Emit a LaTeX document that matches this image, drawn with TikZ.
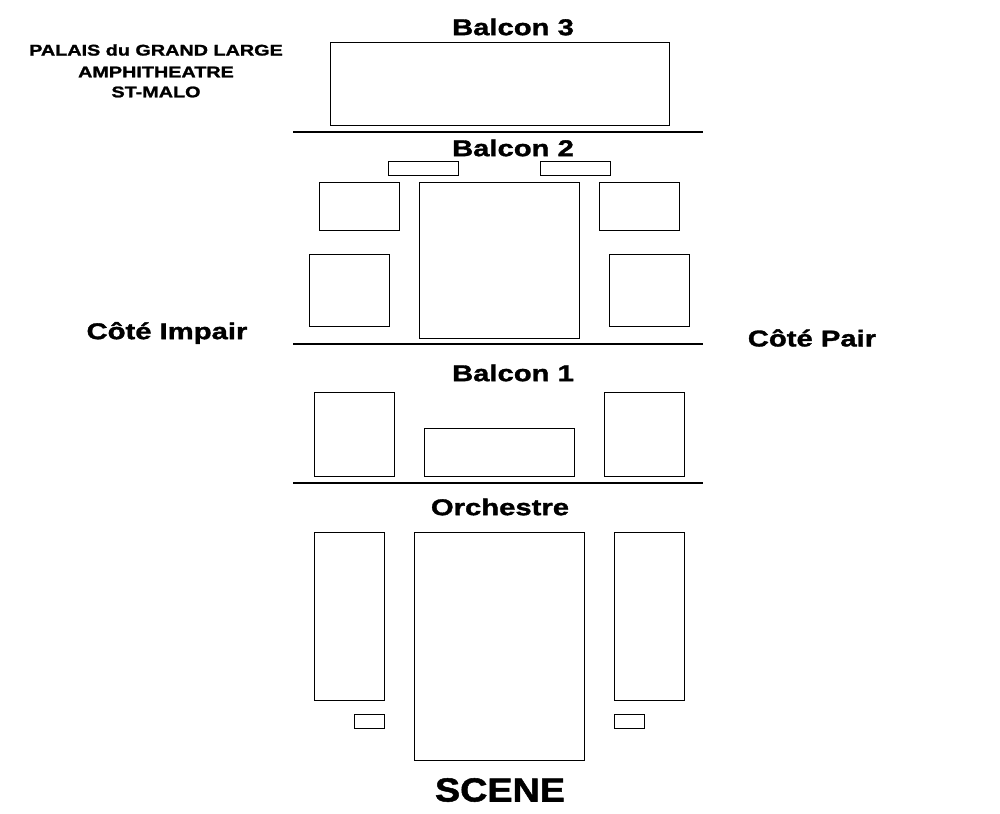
\documentclass[tikz,border=0pt]{standalone}
\usepackage{fontspec}
\setmainfont{Liberation Sans}[FakeStretch=1.28,FakeBold=1.5]
\newfontfamily\scenefont{Liberation Sans}[FakeStretch=1.13,FakeBold=1.5]
\usetikzlibrary{positioning}
\tikzset{
  bloc/.style={draw,line width=0.45pt},
  sep/.style={draw,line width=0.8pt},
  titre/.style={font=\bfseries\fontsize{13}{15}\selectfont},
  info/.style={font=\bfseries\fontsize{8.8}{10}\selectfont}
}
\begin{document}
\begin{tikzpicture}[x=0.02cm,y=-0.02cm]
	\useasboundingbox (0,0) rectangle (1000,814);
	% balcon 3
	\draw[bloc] (330,42) rectangle (669,125);
	\draw[sep] (293,132) -- (703,132);
	% balcon 2
	\draw[bloc] (388,161) rectangle (458,175);
	\draw[bloc] (540,161) rectangle (610,175);
	\draw[bloc] (319,182) rectangle (399,230);
	\draw[bloc] (419,182) rectangle (579,338);
	\draw[bloc] (599,182) rectangle (679,230);
	\draw[bloc] (309,254) rectangle (389,326);
	\draw[bloc] (609,254) rectangle (689,326);
	\draw[sep] (293,344) -- (703,344);
	% balcon 1
	\draw[bloc] (314,392) rectangle (394,476);
	\draw[bloc] (424,428) rectangle (574,476);
	\draw[bloc] (604,392) rectangle (684,476);
	\draw[sep] (293,483) -- (703,483);
	% orchestre
	\draw[bloc] (314,532) rectangle (384,700);
	\draw[bloc] (414,532) rectangle (584,760);
	\draw[bloc] (614,532) rectangle (684,700);
	\draw[bloc] (354,714) rectangle (384,728);
	\draw[bloc] (614,714) rectangle (644,728);
	% textes
	\node[titre] (b3) at (513,27) {Balcon 3};
	\node[titre] (b2) at (513,148) {Balcon 2};
	\node[titre] (b1) at (513,373) {Balcon 1};
	\node[titre] (orch) at (500,507) {Orchestre};
	\node[font=\scenefont\bfseries\fontsize{19}{22}\selectfont] (scene) at (500,790) {SCENE};
	\node[titre] (impair) at (167,333) {Côté Impair};
	\node[titre] (pair) at (812,338) {Côté Pair};
	\node[info] (l1) at (156,50) {PALAIS du GRAND LARGE};
	\node[info] (l2) at (156,72) {AMPHITHEATRE};
	\node[info] (l3) at (156,92) {ST-MALO};
\end{tikzpicture}
\end{document}
